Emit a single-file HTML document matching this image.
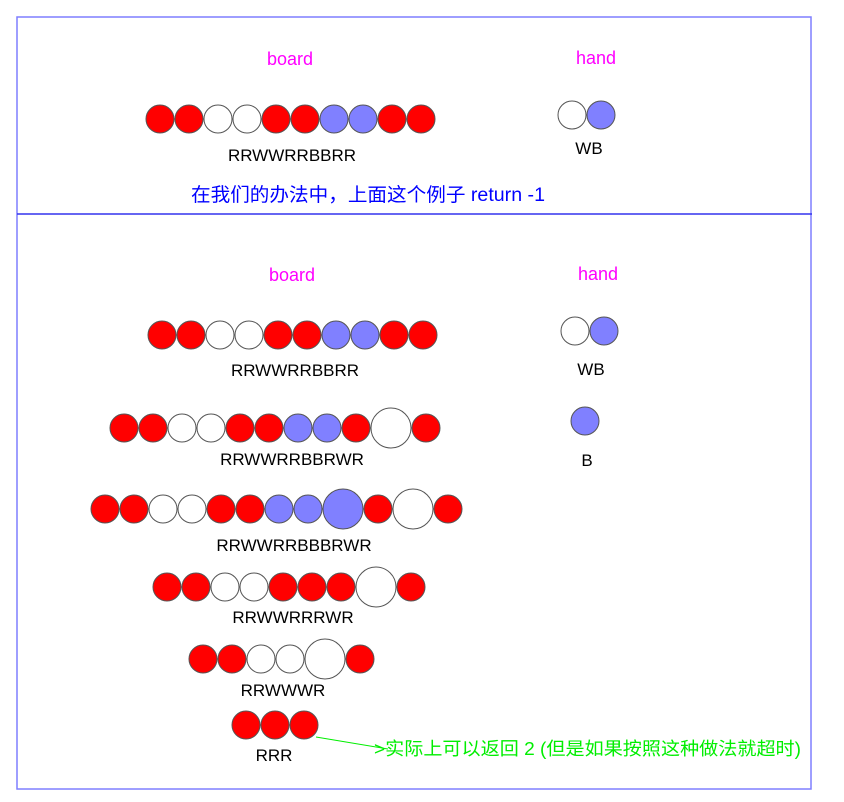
<!DOCTYPE html>
<html><head><meta charset="utf-8"><style>
html,body{margin:0;padding:0;background:#fff;}
svg{display:block;font-family:"Liberation Sans","Noto Sans CJK SC",sans-serif;}
</style></head><body>
<svg id="s" width="844" height="802" viewBox="0 0 844 802">
<rect x="17" y="17" width="794" height="772" fill="none" stroke="#7f7fff" stroke-width="1.5"/>
<line x1="17" y1="214" x2="812" y2="214" stroke="#3333ee" stroke-width="1.5"/>
<text x="290" y="65" font-size="18" fill="#ff00ff" text-anchor="middle">board</text>
<text x="596" y="64" font-size="18" fill="#ff00ff" text-anchor="middle">hand</text>
<text x="191" y="201" font-size="19" fill="#0000ff" textLength="354" lengthAdjust="spacingAndGlyphs">在我们的办法中，上面这个例子  return -1</text>
<text x="292" y="281" font-size="18" fill="#ff00ff" text-anchor="middle">board</text>
<text x="598" y="280" font-size="18" fill="#ff00ff" text-anchor="middle">hand</text>
<line x1="316" y1="737" x2="388" y2="749" stroke="#00ee00" stroke-width="1"/>
<text x="374" y="755" font-size="18" fill="#00ee00" textLength="427" lengthAdjust="spacingAndGlyphs">&gt;实际上可以返回 2 (但是如果按照这种做法就超时)</text>
<g id="balls"></g>
</svg>
<script>
// rows: sequence string (lowercase = big ball), start x, center y, label, label x, label y
const rowSeqs = ["RRWWRRBBRR","WB","RRWWRRBBRR","WB","RRWWRRBBRwR","B","RRWWRRBBbRwR","RRWWRRRwR","RRWWwR","RRR"];
const rowStartX = [160,572,162,575,124,585,105,167,203,246];
const rowY = [119,115,335,331,428,421,509,587,659,725];
const rowLabels = ["RRWWRRBBRR","WB","RRWWRRBBRR","WB","RRWWRRBBRWR","B","RRWWRRBBBRWR","RRWWRRRWR","RRWWWR","RRR"];
const labelX = [292,589,295,591,292,587,294,293,283,274];
const labelY = [161,154,376,375,465,466,551,623,696,761];
const colors = {R:"#ff0000",W:"#ffffff",B:"#8080ff"};
const g = document.getElementById('balls');
const NS = "http://www.w3.org/2000/svg";
for (let i=0;i<rowSeqs.length;i++){
  let x = rowStartX[i], prevR = null;
  for (const ch of rowSeqs[i]){
    const big = ch === ch.toLowerCase();
    const r = big ? 20 : 14;
    if (prevR !== null) x += prevR + r + 1;
    const c = document.createElementNS(NS,'circle');
    c.setAttribute('cx',x); c.setAttribute('cy',rowY[i]); c.setAttribute('r',r);
    c.setAttribute('fill',colors[ch.toUpperCase()]);
    c.setAttribute('stroke','#555'); c.setAttribute('stroke-width','1');
    
    
    g.appendChild(c);
    prevR = r;
  }
  const t = document.createElementNS(NS,'text');
  t.setAttribute('x',labelX[i]); t.setAttribute('y',labelY[i]);
  t.setAttribute('font-size','17'); t.setAttribute('text-anchor','middle'); t.setAttribute('fill','#000');
  t.textContent = rowLabels[i];
  
  
  g.appendChild(t);
}
</script>
</body></html>
